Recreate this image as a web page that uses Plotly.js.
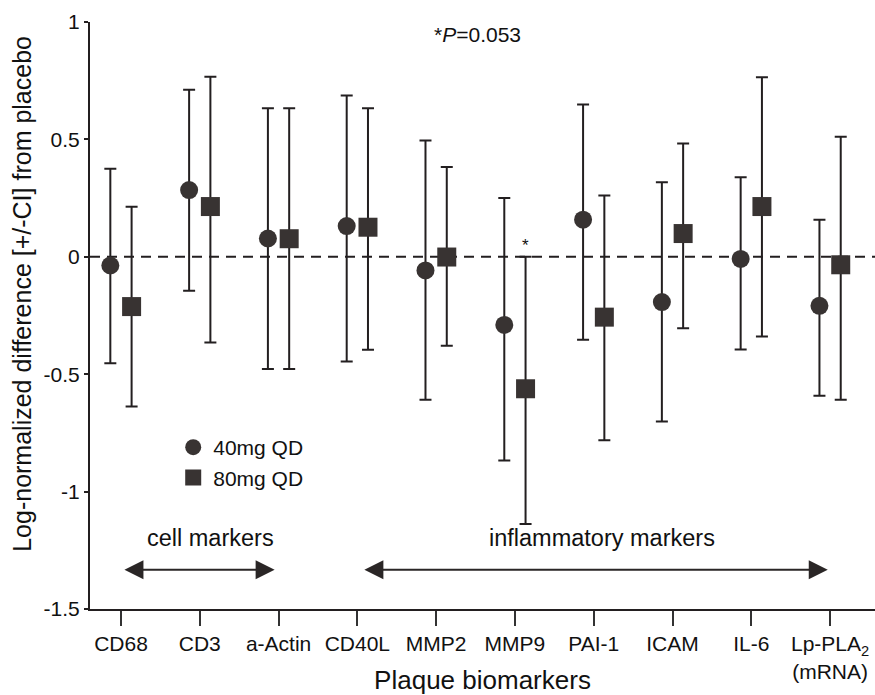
<!DOCTYPE html>
<html>
<head>
<meta charset="utf-8">
<script src="https://cdn.plot.ly/plotly-3.0.1.min.js"></script>
<style>html,body{margin:0;padding:0;background:#fff;}</style>
</head>
<body>
<div id="chart" style="width:875px;height:695px;"></div>
<script>
// Categories (plaque biomarkers)
const categories = ['CD68','CD3','a-Actin','CD40L','MMP2','MMP9','PAI-1','ICAM','IL-6','Lp-PLA<sub>2</sub><br>(mRNA)'];

// 40mg QD: estimate, upper CI, lower CI
const val40 = [-0.037, 0.284, 0.078, 0.131, -0.058, -0.290, 0.158, -0.193, -0.009, -0.209];
const hi40  = [ 0.375, 0.711, 0.633, 0.687,  0.495,  0.250, 0.649,  0.318,  0.339,  0.158];
const lo40  = [-0.453,-0.145,-0.478,-0.446, -0.609, -0.868,-0.353, -0.701, -0.395, -0.592];

// 80mg QD: estimate, upper CI, lower CI
const val80 = [-0.212, 0.214, 0.077, 0.126, -0.001, -0.562,-0.257,  0.099,  0.214, -0.034];
const hi80  = [ 0.213, 0.767, 0.633, 0.633,  0.382,  0.000, 0.261,  0.483,  0.765,  0.511];
const lo80  = [-0.638,-0.365,-0.478,-0.396, -0.379, -1.138,-0.781, -0.304, -0.339, -0.609];

const yTicks = [-1.5, -1, -0.5, 0, 0.5, 1];
const yTickText = ['-1.5', '-1', '-0.5', '0', '0.5', '1'];

const FONT = 'Liberation Sans, Arial, Helvetica, sans-serif';
const INK = '#231f20';
const MARK = '#383332';
const off = 0.135;

const idx = categories.map((c, i) => i + 1);
const x40 = idx.map(v => v - off);
const x80 = idx.map(v => v + off);

const t40 = {
  x: x40, y: val40, type: 'scatter', mode: 'markers', name: '40mg QD',
  marker: {symbol: 'circle', size: 18, color: MARK},
  error_y: {type: 'data', symmetric: false,
    array: hi40.map((h, i) => h - val40[i]),
    arrayminus: lo40.map((l, i) => val40[i] - l),
    color: INK, thickness: 2, width: 6}
};
const t80 = {
  x: x80, y: val80, type: 'scatter', mode: 'markers', name: '80mg QD',
  marker: {symbol: 'square', size: 19, color: MARK},
  error_y: {type: 'data', symmetric: false,
    array: hi80.map((h, i) => h - val80[i]),
    arrayminus: lo80.map((l, i) => val80[i] - l),
    color: INK, thickness: 2, width: 6}
};

const annotations = [
  {x: -0.0866, y: 0.537, xref: 'paper', yref: 'paper', showarrow: false, textangle: -90,
   xanchor: 'center', yanchor: 'middle',
   text: 'Log-normalized difference [+/-CI] from placebo', font: {family: FONT, size: 25, color: '#111'}},
  {x: 5.53, y: 0.945, xref: 'x', yref: 'y', showarrow: false,
   text: '*<i>P</i>=0.053', font: {family: FONT, size: 21, color: '#111'}},
  {x: 6 + off, y: hi80[5], xref: 'x', yref: 'y', showarrow: false, yanchor: 'bottom', yshift: 0,
   text: '*', font: {family: FONT, size: 17, color: '#111'}},
  {x: 2.13, y: -1.197, xref: 'x', yref: 'y', showarrow: false,
   text: 'cell markers', font: {family: FONT, size: 23.5, color: '#111'}},
  {x: 7.10, y: -1.197, xref: 'x', yref: 'y', showarrow: false,
   text: 'inflammatory markers', font: {family: FONT, size: 23.5, color: '#111'}},
  {x: 2.95, y: -1.333, ax: 1.025, ay: -1.333, xref: 'x', yref: 'y', axref: 'x', ayref: 'y',
   text: '', showarrow: true, arrowhead: 2, startarrowhead: 2, arrowside: 'end+start',
   arrowsize: 1.9, startarrowsize: 1.9, arrowwidth: 2, arrowcolor: '#2a2626', standoff: 0, startstandoff: 0},
  {x: 9.97, y: -1.333, ax: 4.07, ay: -1.333, xref: 'x', yref: 'y', axref: 'x', ayref: 'y',
   text: '', showarrow: true, arrowhead: 2, startarrowhead: 2, arrowside: 'end+start',
   arrowsize: 1.9, startarrowsize: 1.9, arrowwidth: 2, arrowcolor: '#2a2626', standoff: 0, startstandoff: 0}
];

const layout = {
  width: 875, height: 695,
  margin: {l: 90, r: 0, t: 22, b: 86},
  paper_bgcolor: '#fff', plot_bgcolor: '#fff',
  font: {family: FONT, size: 21, color: '#111'},
  showlegend: true,
  legend: {x: 0.106, y: 0.31, xanchor: 'left', yanchor: 'top', bgcolor: 'rgba(0,0,0,0)',
           font: {family: FONT, size: 21, color: '#111'}, tracegroupgap: 0, itemwidth: 30},
  xaxis: {
    range: [0.607, 10.57], tickmode: 'array', tickvals: idx, ticktext: categories,
    ticks: 'outside', ticklen: 15, tickwidth: 2, tickcolor: '#333',
    showline: true, linewidth: 2, linecolor: INK, showgrid: false, zeroline: false,
    tickfont: {family: FONT, size: 21, color: '#111'},
    title: {text: 'Plaque biomarkers', font: {family: FONT, size: 26, color: '#111'}, standoff: 4},
    automargin: false
  },
  yaxis: {
    range: [-1.5, 1], tickmode: 'array', tickvals: yTicks, ticktext: yTickText,
    ticks: 'outside', ticklen: 4, tickwidth: 2, tickcolor: INK,
    showline: true, linewidth: 2, linecolor: INK, showgrid: false, zeroline: false,
    tickfont: {family: FONT, size: 21, color: '#111'},
    automargin: false
  },
  shapes: [
    {type: 'line', xref: 'paper', x0: 0, x1: 1, yref: 'y', y0: 0, y1: 0, layer: 'below',
     line: {color: INK, width: 2, dash: '10px,7px'}}
  ],
  annotations: annotations
};

Plotly.newPlot('chart', [t40, t80], layout, {displayModeBar: false, staticPlot: true});
</script>
</body>
</html>
